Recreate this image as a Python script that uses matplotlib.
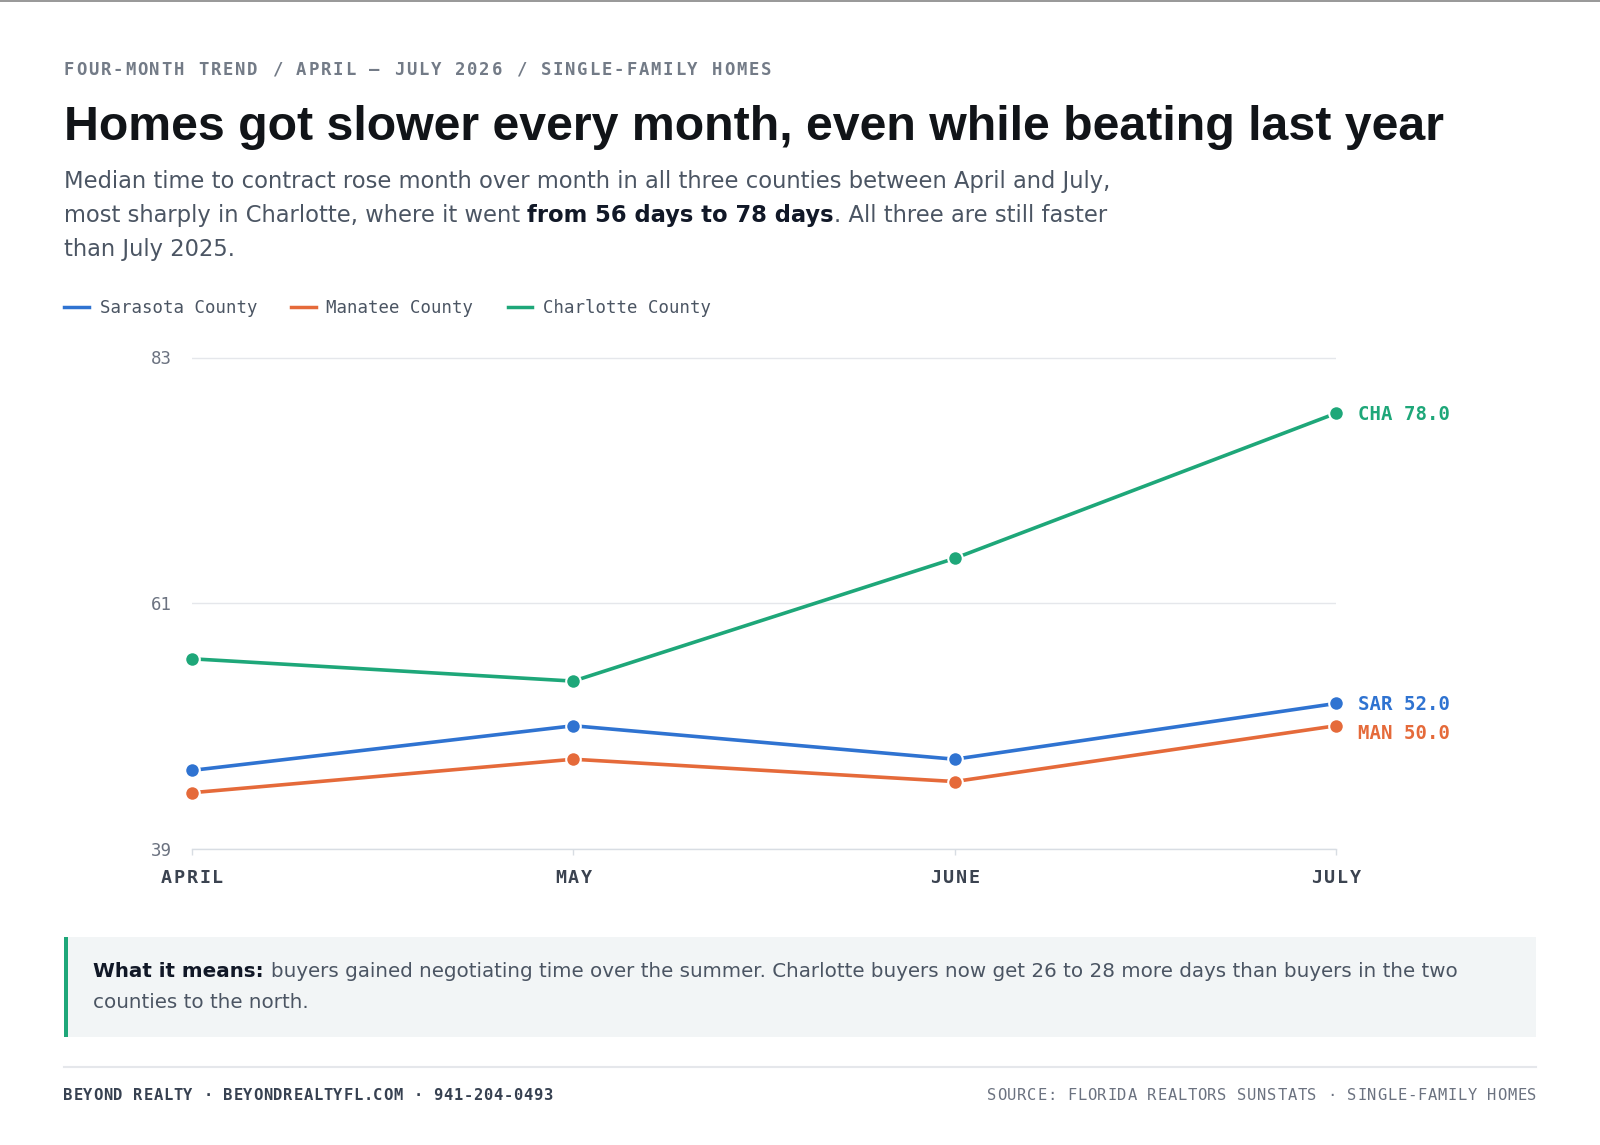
import matplotlib
matplotlib.use('Agg')
import matplotlib.pyplot as plt
from matplotlib.transforms import offset_copy
from matplotlib.patches import Rectangle
from matplotlib.lines import Line2D

# data (median days to contract)
months = ['APRIL', 'MAY', 'JUNE', 'JULY']
sarasota = [46, 50, 47, 52]
manatee = [44, 47, 45, 50]
charlotte = [56, 54, 65, 78]
series_names = ['Sarasota County', 'Manatee County', 'Charlotte County']
short_names = ['SAR', 'MAN', 'CHA']
colors = ['#2f73d1', '#e56a3a', '#1ea779']
y_ticks = [39, 61, 83]

W, H = 1600, 1145
MONO = 'DejaVu Sans Mono'
SANS = 'DejaVu Sans'
TITLE_FONT = 'Liberation Sans'

fig = plt.figure(figsize=(W / 100, H / 100), dpi=100)
fig.patch.set_facecolor('white')
renderer = fig.canvas.get_renderer()


def fx(px):
    return px / W


def fy(py):
    return 1 - py / H


def spaced(x, y, s, step, size, trans=None, ha='left', dy=0, **kw):
    # monospace text with letter spacing, one character at a time
    trans = trans or fig.transFigure
    total = step * len(s)
    start = {'left': 0, 'center': -total / 2, 'right': -total}[ha]
    for i, ch in enumerate(s):
        t = offset_copy(trans, fig=fig, x=start + (i + 0.5) * step, y=dy, units='dots')
        fig.text(x, y, ch, transform=t, ha='center', va='baseline',
                 family=MONO, fontsize=size, **kw)


def rich_line(x, y, parts, size):
    # parts: (text, weight, color); trailing spaces are added by hand
    arts = []
    cur = x
    for txt, weight, color in parts:
        core = txt.rstrip(' ')
        n_sp = len(txt) - len(core)
        t = fig.text(fx(cur), fy(y), core, fontsize=size, fontweight=weight,
                     color=color, family=SANS, va='baseline', ha='left')
        cur += t.get_window_extent(renderer).width
        sp = 0.348 if weight == 'bold' else 0.318
        cur += n_sp * sp * size * 100 / 72
        arts.append(t)
    return cur - x, arts


def fitted_rich(lines, x, y0, gap, target_w, size):
    w, arts = rich_line(x, y0, lines[0], size)
    for a in arts:
        a.remove()
    size = size * target_w / w
    for i, parts in enumerate(lines):
        rich_line(x, y0 + i * gap, parts, size)
    return size


# top rule
fig.add_artist(Rectangle((0, fy(2)), 1, 2 / H, transform=fig.transFigure,
                         fc='#9a9a9a', ec='none'))

# kicker
spaced(fx(63), fy(75), 'FOUR-MONTH TREND / APRIL \u2014 JULY 2026 / SINGLE-FAMILY HOMES',
       12.22, 12.4, fontweight='bold', color='#737b87')

# title, fitted to the reference width
title = fig.text(fx(64), fy(140), 'Homes got slower every month, even while beating last year',
                 family=TITLE_FONT, fontweight='bold', fontsize=35, color='#111418',
                 va='baseline', ha='left')
tw = title.get_window_extent(renderer).width
title.set_fontsize(35 * 1380 / tw)

# subtitle
sub_dark = '#4b5563'
subtitle = [
    [('Median time to contract rose month over month in all three counties between April and July,', 'normal', sub_dark)],
    [('most sharply in Charlotte, where it went ', 'normal', sub_dark),
     ('from 56 days to 78 days', 'bold', '#111827'),
     ('. All three are still faster', 'normal', sub_dark)],
    [('than July 2025.', 'normal', sub_dark)],
]
fitted_rich(subtitle, 64, 188, 34, 1048, 16)

# chart
ax = fig.add_axes([fx(192), fy(848.5), (1336 - 192) / W, (848.5 - 357.5) / H])
x = list(range(len(months)))
for vals, c in zip([sarasota, manatee, charlotte], colors):
    ax.plot(x, vals, color=c, lw=2.6, marker='o', ms=10.5, mfc=c, mec='white',
            mew=1.5, clip_on=False, zorder=3, solid_capstyle='round')

ax.set_xlim(0, 3)
ax.set_ylim(39, 83)
ax.set_yticks(y_ticks)
ax.set_xticks(x)
ax.set_xticklabels([])
for s in ['top', 'right', 'left']:
    ax.spines[s].set_visible(False)
ax.spines['bottom'].set_color('#d8dde3')
ax.spines['bottom'].set_linewidth(1)
ax.yaxis.grid(True, color='#e5e7eb', lw=1)
ax.set_axisbelow(True)
ax.tick_params(axis='y', length=0, pad=14.4, labelsize=12.5, labelcolor='#6b7280')
ax.tick_params(axis='x', length=4.3, width=1, color='#d8dde3')
for lab in ax.get_yticklabels():
    lab.set_family(MONO)

# month labels under the ticks
for xi, m in zip(x, months):
    spaced(xi, 0, m, 13, 13.2, trans=ax.get_xaxis_transform(), ha='center', dy=-34.5,
           fontweight='bold', color='#3b4350')

# end labels
offsets = [0, -6, 0]
for vals, short, c, off in zip([sarasota, manatee, charlotte], short_names, colors, offsets):
    ax.annotate(f'{short} {vals[-1]:.1f}', xy=(x[-1], vals[-1]), xytext=(22, off - 6.8),
                textcoords='offset pixels', ha='left', va='baseline', family=MONO,
                fontweight='bold', fontsize=13.7, color=c, annotation_clip=False)

# legend
fpx = 12.5 * 100 / 72
handles = [Line2D([], [], color=c, lw=2.5) for c in colors]
fig.legend(handles, series_names, loc='center left', bbox_to_anchor=(fx(64), fy(308)),
           ncol=3, frameon=False, borderpad=0, borderaxespad=0,
           handlelength=24.5 / fpx, handletextpad=11 / fpx, columnspacing=34 / fpx,
           prop={'family': MONO, 'size': 12.5}, labelcolor='#4b5563')

# callout box
fig.add_artist(Rectangle((fx(64), fy(1037)), (1536 - 64) / W, 100 / H,
                         transform=fig.transFigure, fc='#f2f5f6', ec='none'))
fig.add_artist(Rectangle((fx(64), fy(1037)), 4 / W, 100 / H,
                         transform=fig.transFigure, fc=colors[2], ec='none'))
callout = [
    [('What it means: ', 'bold', '#111827'),
     ('buyers gained negotiating time over the summer. Charlotte buyers now get 26 to 28 more days than buyers in the two', 'normal', sub_dark)],
    [('counties to the north.', 'normal', sub_dark)],
]
fitted_rich(callout, 93, 977, 30.5, 1370, 14.5)

# footer
fig.add_artist(Line2D([fx(64), fx(1536)], [fy(1067), fy(1067)], transform=fig.transFigure,
                      color='#e5e7eb', lw=1.5))
spaced(fx(63), fy(1100), 'BEYOND REALTY \u00b7 BEYONDREALTYFL.COM \u00b7 941-204-0493',
       10.0, 11.2, fontweight='bold', color='#374151')
spaced(fx(1537), fy(1100), 'SOURCE: FLORIDA REALTORS SUNSTATS \u00b7 SINGLE-FAMILY HOMES',
       10.0, 11.2, ha='right', color='#6b7280')

plt.savefig('out.png', dpi=100, facecolor='white')
